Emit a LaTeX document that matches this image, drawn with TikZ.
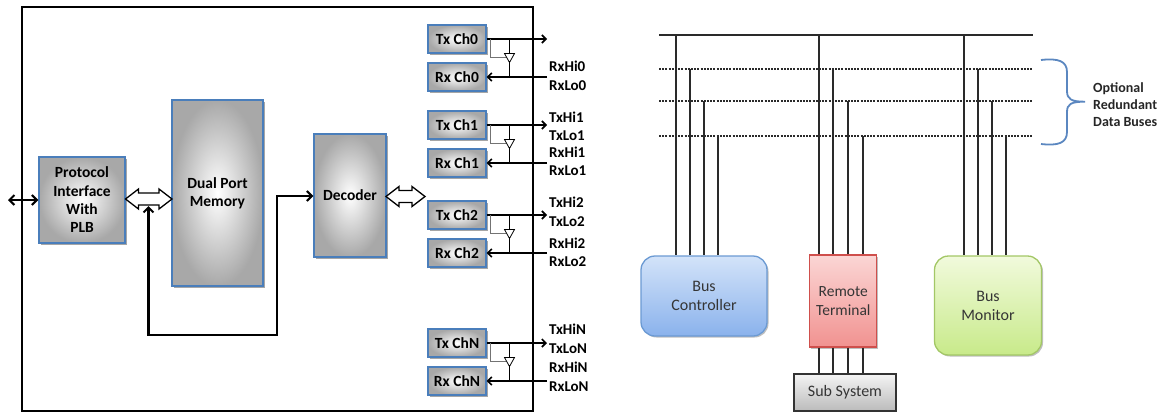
\documentclass[tikz,border=0pt]{standalone}
\usepackage{fontspec}
\setmainfont{Carlito}
\usetikzlibrary{arrows.meta,shadows,calc}
\definecolor{blkborder}{HTML}{4A7EBB}
\definecolor{txtgray}{HTML}{353535}
\definecolor{bcTop}{HTML}{D3E3F9}
\definecolor{bcBot}{HTML}{8AB2EC}
\definecolor{bcBorder}{HTML}{6B9AD3}
\definecolor{rtTop}{HTML}{FBD6D5}
\definecolor{rtBot}{HTML}{F19290}
\definecolor{rtBorder}{HTML}{CF4F4C}
\definecolor{bmTop}{HTML}{F1FADC}
\definecolor{bmBot}{HTML}{C8EA8A}
\definecolor{bmBorder}{HTML}{A3C766}
\definecolor{ssTop}{HTML}{F4F4F4}
\definecolor{ssBot}{HTML}{BBBBBB}
\definecolor{braceblue}{HTML}{5B87C0}
\definecolor{busgray}{HTML}{2A2A2A}
\newcommand\hollowarrow[3]{%
  \draw[hollow] (#1,#3) -- (#1+13,#3-10) -- (#1+13,#3-6) -- (#2-13,#3-6) -- (#2-13,#3-10)
   -- (#2,#3) -- (#2-13,#3+10) -- (#2-13,#3+6) -- (#1+13,#3+6) -- (#1+13,#3+10) -- cycle;}
\begin{document}
\begin{tikzpicture}[x=1pt,y=-1pt,
  blk/.style={draw=blkborder, line width=1.4pt, inner color=white, outer color=black!34,
    drop shadow={shadow xshift=1.5pt,shadow yshift=-1.5pt,opacity=0.35,fill=black},
    font=\bfseries\fontsize{15.5}{18.3}\selectfont, align=center, inner sep=0pt},
  chbox/.style={blk, minimum width=58pt, minimum height=28pt},
  wire/.style={line width=2.4pt, -{Straight Barb[length=5pt,width=10pt,line width=2pt]}},
  chwire/.style={line width=1.8pt, -{Straight Barb[length=4pt,width=8pt,line width=1.6pt]}},
  hollow/.style={draw=black, line width=1.3pt, fill=white, line join=miter},
  lbl/.style={anchor=west, align=left, font=\bfseries\fontsize{15}{18.5}\selectfont, inner sep=0pt},
  rbox/.style={line width=1.3pt, font=\fontsize{16}{19}\selectfont, text=txtgray, align=center, inner sep=0pt},
  vline/.style={line width=1.9pt, draw=busgray},
  dbus/.style={line width=1.7pt, draw=busgray, dash pattern=on 2pt off 1.2pt}
]
\useasboundingbox (0,0) rectangle (1160,413);

% ---------------- left panel ----------------
\draw[line width=2pt] (22,7) rectangle (533,411);

\node[blk, minimum width=86pt, minimum height=86pt] (proto) at (82,200) {Protocol\\Interface\\With\\PLB};
\node[blk, minimum width=91pt, minimum height=186pt] (dpm) at (217.5,193) {Dual Port\\Memory};
\node[blk, minimum width=72pt, minimum height=123pt] (dec) at (350,195.5) {Decoder};

\coordinate (ext) at (8,200);
\draw[wire,{Straight Barb[length=5pt,width=10pt,line width=2pt]}-{Straight Barb[length=5pt,width=10pt,line width=2pt]}] (ext) -- (proto.west);

\hollowarrow{125.5}{172}{199}
\hollowarrow{386}{425}{196.5}

\coordinate (fb) at (148.5,206);
\coordinate (fbc) at (277,196);
\draw[line width=2.4pt, {Straight Barb[length=5pt,width=10pt,line width=2pt]}-{Straight Barb[length=5pt,width=10pt,line width=2pt]}, line join=miter]
  (fb) -- (148.5,335) -| (fbc) -- (fbc -| dec.west);

\foreach \n/\T in {0/25,1/111,2/201,N/329}{
  \node[chbox] (tx\n) at (457,\T+14) {Tx Ch\n};
  \node[chbox] (rx\n) at (457,\T+52) {Rx Ch\n};
  \coordinate (to\n) at (547,\T+14);
  \coordinate (ri\n) at (547,\T+52);
  \draw[chwire] (tx\n.east) -- (to\n);
  \draw[chwire] (ri\n) -- (rx\n.east);
  \draw[line width=1pt] (509.5,\T+14) -- (509.5,\T+52);
  \draw[line width=1pt, draw=black!55] (490.5,\T+14) |- (506.5,\T+32.5);
  \draw[line width=0.8pt, fill=white] (504.5,\T+28.5) -- (514.5,\T+28.5) -- (509.5,\T+37.5) -- cycle;
}

\node[lbl] (l0r) at (549,75.9) {RxHi0\\RxLo0};
\node[lbl] (l1t) at (549,126.3) {TxHi1\\TxLo1};
\node[lbl] (l1r) at (549,161.5) {RxHi1\\RxLo1};
\node[lbl] (l2t) at (549,211.8) {TxHi2\\TxLo2};
\node[lbl] (l2r) at (549,252.5) {RxHi2\\RxLo2};
\node[lbl] (lNt) at (549,339) {TxHiN\\TxLoN};
\node[lbl] (lNr) at (549,376.9) {RxHiN\\RxLoN};

% ---------------- right panel ----------------
\coordinate (b0l) at (659,35);   \coordinate (b0r) at (1033,35);
\draw[line width=2pt, draw=busgray] (b0l) -- (b0r);
\foreach \yy in {68.7,101.3,135.7}{
  \draw[dbus] (659,\yy) -- (1033,\yy);
}

\node[rbox, draw=bcBorder, top color=bcTop, bottom color=bcBot, rounded corners=14pt,
  minimum width=126pt, minimum height=80pt,
  drop shadow={shadow xshift=1.5pt,shadow yshift=-1.5pt,opacity=0.25,fill=black}] (bc) at (704,296) {Bus\\Controller};
\node[rbox, draw=rtBorder, top color=rtTop, bottom color=rtBot,
  minimum width=67pt, minimum height=92pt, font=\fontsize{15.5}{19}\selectfont,
  drop shadow={shadow xshift=1.5pt,shadow yshift=-1.5pt,opacity=0.25,fill=black}] (rt) at (843.3,301) {Remote\\Terminal};
\node[rbox, draw=bmBorder, top color=bmTop, bottom color=bmBot, rounded corners=14pt,
  minimum width=107pt, minimum height=99pt,
  drop shadow={shadow xshift=1.5pt,shadow yshift=-1.5pt,opacity=0.25,fill=black}] (bm) at (988,305.5) {Bus\\Monitor};
\node[rbox, draw=black!80, top color=ssTop, bottom color=ssBot,
  minimum width=102pt, minimum height=37pt] (ss) at (845,392.5) {Sub System};

\foreach \x/\yy in {676/35,690/68.7,704/101.3,718/135.7}{
  \draw[vline] (\x,\yy) -- (\x,\yy |- bc.north);
}
\foreach \x/\yy in {819/35,833/68.7,848/101.3,863/135.7}{
  \draw[vline] (\x,\yy) -- (\x,\yy |- rt.north);
  \draw[vline] (\x,\yy |- rt.south) -- (\x,\yy |- ss.north);
}
\foreach \x/\yy in {964/35,978/68.7,992/101.3,1006/135.7}{
  \draw[vline] (\x,\yy) -- (\x,\yy |- bm.north);
}

\coordinate (brt) at (1041,60);
\coordinate (brb) at (1041,144);
\coordinate (brtip) at (1085,101.7);
\draw[line width=1.8pt, draw=braceblue]
  (brt) .. controls (1058,58) and (1067,61) .. (1067,72) -- (1067,91)
  .. controls (1067,99) and (1071,101.7) .. (brtip)
  .. controls (1071,101.7) and (1067,104) .. (1067,112) -- (1067,132)
  .. controls (1067,143) and (1058,146) .. (brb);
\node[anchor=west, align=left, font=\bfseries\fontsize{14}{17}\selectfont, text=black!85, inner sep=0pt] (opt) at (1093,105) {Optional\\Redundant\\Data Buses};

\end{tikzpicture}
\end{document}
